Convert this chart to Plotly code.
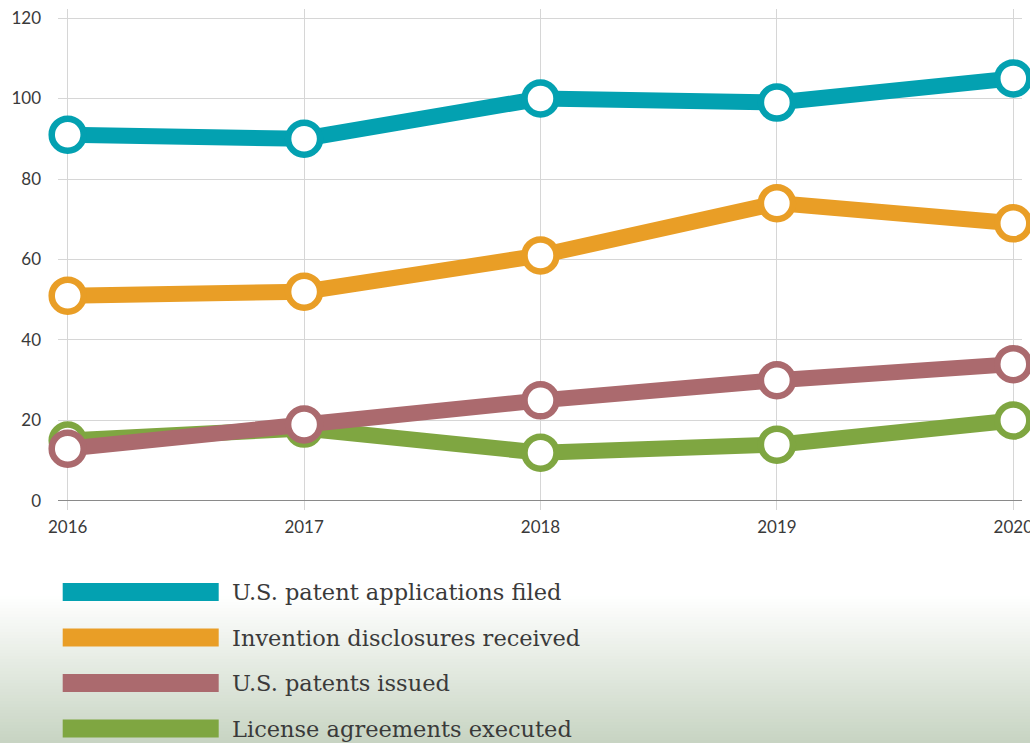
import plotly.graph_objects as go

years = [2016, 2017, 2018, 2019, 2020]
series_names = [
    "U.S. patent applications filed",
    "Invention disclosures received",
    "U.S. patents issued",
    "License agreements executed",
]
patent_apps = [91, 90, 100, 99, 105]
disclosures = [51, 52, 61, 74, 69]
patents_issued = [13, 19, 25, 30, 34]
licenses = [15, 18, 12, 14, 20]
colors = ["#03a1b1", "#e99e26", "#ab6a6e", "#7fa641"]
y_ticks = [0, 20, 40, 60, 80, 100, 120]

W, H = 1030, 743
L, R, T = 58, 8, 9
plot_w = W - L - R
plot_h = 510 - 9
B = H - T - plot_h


def py2paper(py):
    return (T + plot_h - py) / plot_h


def px2paper(px):
    return (px - L) / plot_w


values = [patent_apps, disclosures, patents_issued, licenses]

fig = go.Figure()
for idx in [3, 2, 1, 0]:
    fig.add_trace(go.Scatter(
        x=years, y=values[idx], mode="lines+markers", name=series_names[idx],
        line=dict(color=colors[idx], width=16),
        marker=dict(size=32, color="white", line=dict(color=colors[idx], width=6.5)),
        cliponaxis=False, showlegend=False, hoverinfo="x+y+name",
    ))

shapes = []
g_top, g_bot = 596, 743
c0 = (255, 255, 255)
c1 = (199, 212, 194)
n = 49
step = (g_bot - g_top) / n
for i in range(n):
    sy0 = g_top + i * step
    sy1 = sy0 + step + 0.6
    t = (i + 0.5) / n
    c = tuple(round(c0[k] + (c1[k] - c0[k]) * t) for k in range(3))
    shapes.append(dict(
        type="rect", xref="paper", yref="paper", layer="below",
        x0=-L / plot_w - 0.01, x1=1 + R / plot_w + 0.01,
        y0=py2paper(sy1), y1=py2paper(sy0),
        fillcolor="rgb(%d,%d,%d)" % c, line=dict(width=0),
    ))

annotations = []
centers = [592, 637.5, 683, 728.5]
for i, name in enumerate(series_names):
    cy = centers[i]
    shapes.append(dict(
        type="rect", xref="paper", yref="paper", layer="above",
        x0=px2paper(62.7), x1=px2paper(218.7),
        y0=py2paper(cy + 9), y1=py2paper(cy - 9),
        fillcolor=colors[i], line=dict(width=0),
    ))
    annotations.append(dict(
        text=name, xref="paper", yref="paper", showarrow=False,
        x=px2paper(230), y=py2paper(cy),
        xanchor="left", yanchor="middle",
        font=dict(family="DejaVu Serif", size=22.5, color="#3a3a3a"),
    ))

x_pad_l = (67.7 - 58) / 236.4
x_pad_r = (1022 - 1013.3) / 236.4
fig.update_layout(
    width=W, height=H,
    margin=dict(l=L, r=R, t=T, b=B),
    paper_bgcolor="white", plot_bgcolor="white",
    shapes=shapes, annotations=annotations,
    xaxis=dict(
        range=[2016 - x_pad_l, 2020 + x_pad_r],
        tickvals=years, ticktext=[str(y) for y in years],
        showgrid=True, gridcolor="#d6d6d6", gridwidth=1,
        zeroline=False, showline=False, ticks="",
        tickfont=dict(family="Lato", size=17, color="#3a3a3a"),
        ticklabelstandoff=5, ticklabeloverflow="allow",
        automargin=False,
    ),
    yaxis=dict(
        range=[-2.24, 122.24],
        tickvals=y_ticks,
        showgrid=True, gridcolor="#d6d6d6", gridwidth=1,
        zeroline=True, zerolinecolor="#8a8a8a", zerolinewidth=1,
        showline=False, ticks="",
        tickfont=dict(family="Lato", size=17, color="#3a3a3a"),
        ticklabelstandoff=16, ticklabeloverflow="allow",
        automargin=False,
    ),
)

fig.write_html(
    "out.html",
    config={"displayModeBar": False},
    post_script="document.body.style.margin='0';document.body.style.overflow='hidden';",
)
